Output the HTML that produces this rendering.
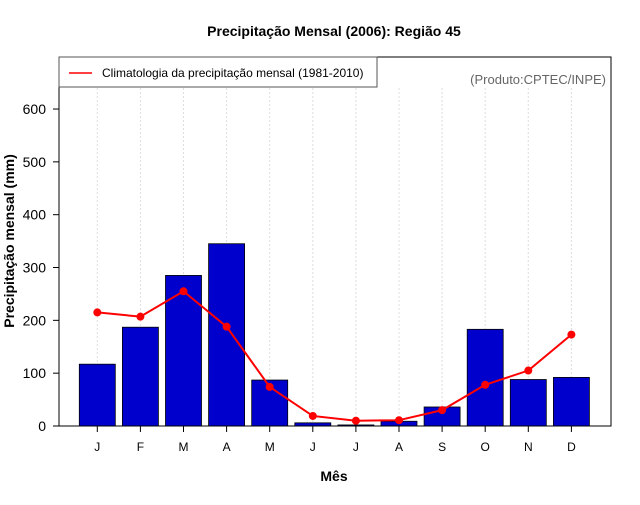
<!DOCTYPE html>
<html><head><meta charset="utf-8"><style>
body{margin:0;background:#fff}
svg text{font-family:"Liberation Sans",sans-serif}
</style></head><body>
<svg id="chart" width="640" height="500" xmlns="http://www.w3.org/2000/svg">
<rect width="640" height="500" fill="#fff"/>
<text x="334" y="36" text-anchor="middle" font-size="14" font-weight="bold">Precipitação Mensal (2006): Região 45</text>
<g id="grid"></g>
<g id="bars"></g>
<g id="line"></g>
<g id="axes"></g>
<rect x="59" y="57" width="552" height="369" fill="none" stroke="#000" stroke-width="1"/>
<g>
<rect x="59" y="57" width="318" height="30" fill="#fff" stroke="#555"/>
<line x1="69" y1="73" x2="92" y2="73" stroke="#f00" stroke-width="1.5"/>
<text x="102" y="77" font-size="12">Climatologia da precipitação mensal (1981-2010)</text>
</g>
<text x="606" y="84" text-anchor="end" font-size="13" fill="#666">(Produto:CPTEC/INPE)</text>
<text transform="translate(14,241) rotate(-90)" text-anchor="middle" font-size="14" font-weight="bold">Precipitação mensal (mm)</text>
<text x="334" y="481" text-anchor="middle" font-size="14" font-weight="bold">Mês</text>
</svg>
<script>
const months=["J","F","M","A","M","J","J","A","S","O","N","D"];
const observed=[117,187,285,345,87,6,2,9,36,183,88,92];
const climatology=[215,207,255,188,74,19,10,11,30,78,105,173];
const yTicks=[0,100,200,300,400,500,600];
const NS="http://www.w3.org/2000/svg";
function xPos(i){return 97.3+i*43.1;}
function yPos(v){return 426-v*0.5283;}
function mk(tag,attrs,parent){const e=document.createElementNS(NS,tag);for(const k in attrs)e.setAttribute(k,attrs[k]);document.getElementById(parent).appendChild(e);return e;}
months.forEach((m,i)=>{
  const g=mk("line",{x1:xPos(i),x2:xPos(i),y1:88,y2:426,stroke:"#ddd","stroke-dasharray":"2,2"},"grid");
  
  
  const b=mk("rect",{x:xPos(i)-18,y:yPos(observed[i]),width:36,height:426-yPos(observed[i]),fill:"#0000cd",stroke:"#000","stroke-width":"0.8"},"bars");
  
  
  const t=mk("line",{x1:xPos(i),x2:xPos(i),y1:426,y2:432,stroke:"#000"},"axes");
  
  
  const l=mk("text",{x:xPos(i),y:451,"text-anchor":"middle","font-size":"12"},"axes");
  l.textContent=m;
  
  
});
const pts=climatology.map((v,i)=>xPos(i)+","+yPos(v)).join(" ");
const pl=mk("polyline",{points:pts,fill:"none",stroke:"#f00","stroke-width":"2"},"line");


climatology.forEach((v,i)=>{
  const c=mk("circle",{cx:xPos(i),cy:yPos(v),r:4,fill:"#f00"},"line");
  
  
});
yTicks.forEach(v=>{
  const t=mk("line",{x1:53,x2:59,y1:yPos(v),y2:yPos(v),stroke:"#000"},"axes");
  
  
  const l=mk("text",{x:46,y:yPos(v)+5,"text-anchor":"end","font-size":"14"},"axes");
  l.textContent=v;
  
  
});
</script>
</body></html>
